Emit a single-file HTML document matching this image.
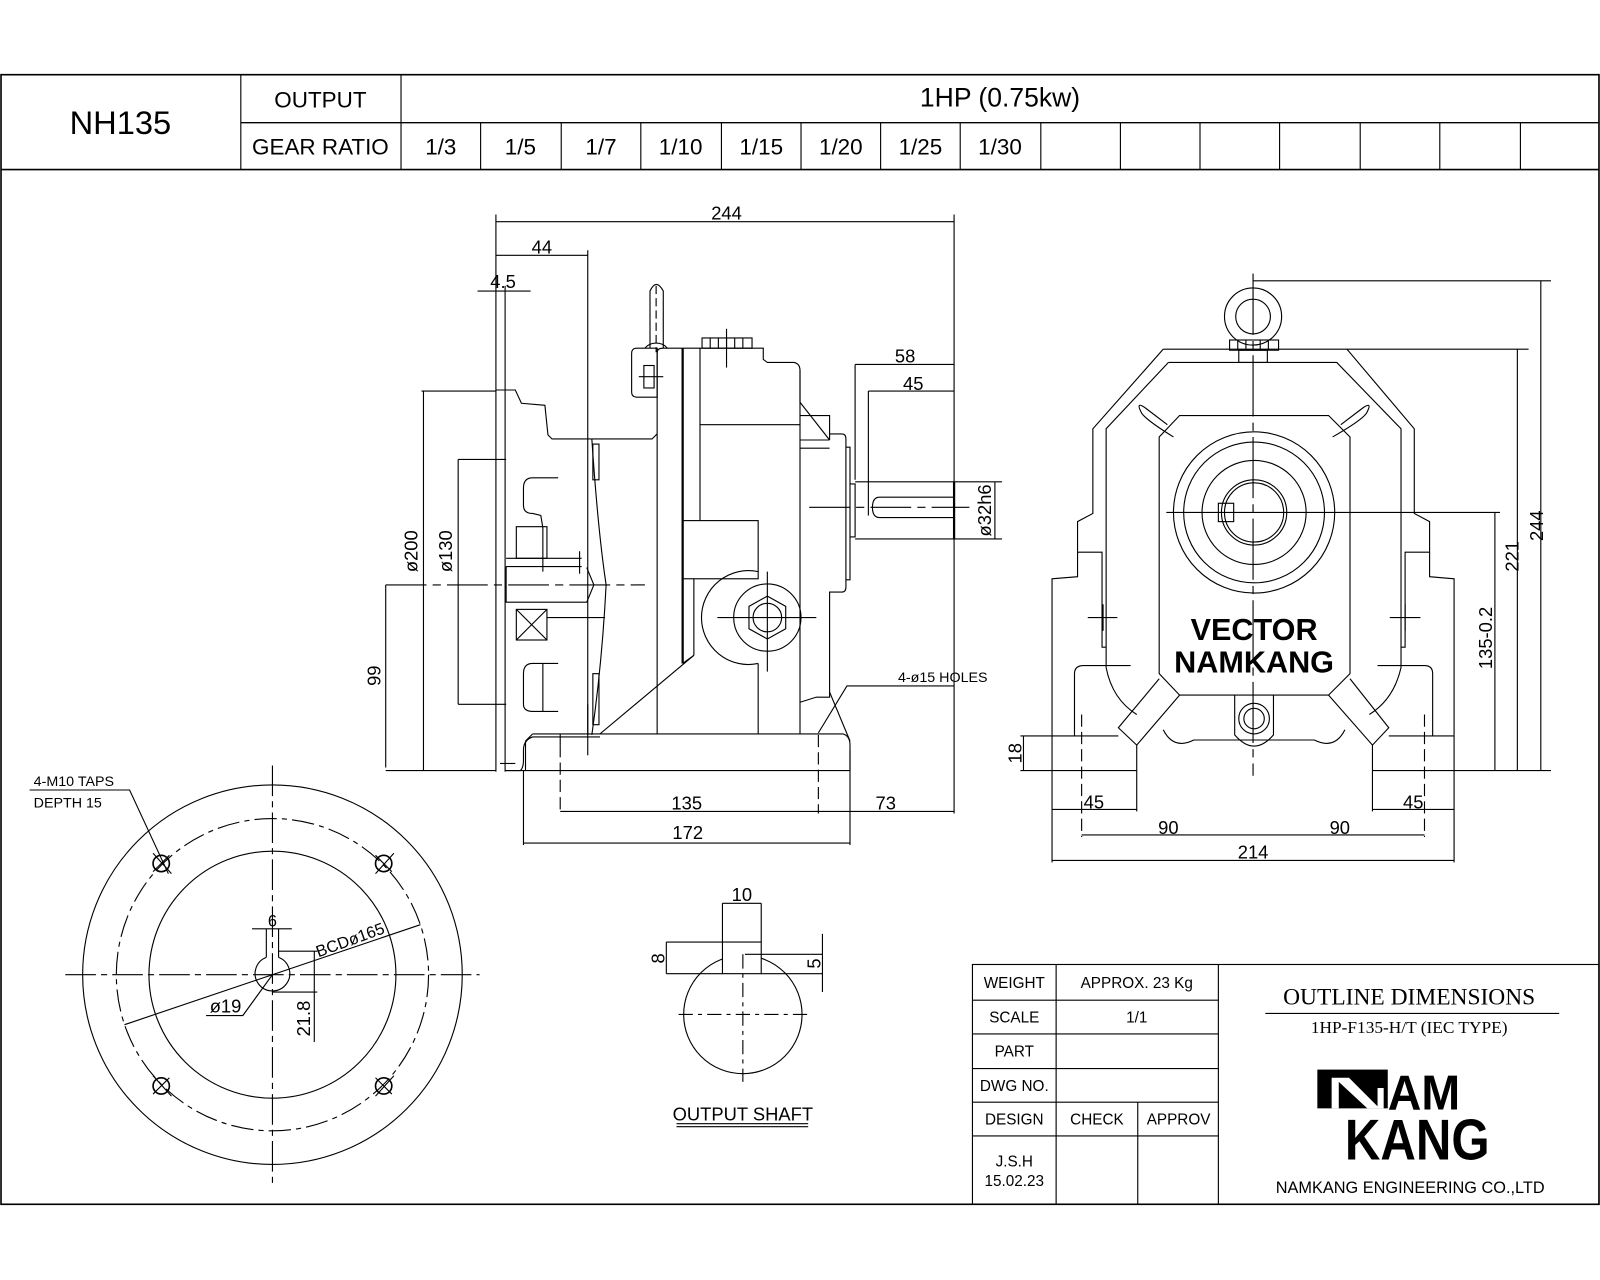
<!DOCTYPE html>
<html><head><meta charset="utf-8"><style>
html,body{margin:0;padding:0;background:#fff;}
svg{display:block;}
text{font-family:"Liberation Sans",sans-serif;fill:#000;}
</style></head><body>
<svg width="1600" height="1280" viewBox="0 0 1568 1254" xmlns="http://www.w3.org/2000/svg">
<rect width="1568" height="1254" fill="#fff"/>
<g fill="none" stroke="#000" stroke-width="1.1">
<rect x="1" y="73" width="1566" height="1107" stroke-width="1.6"/>
<line x1="1" y1="166" x2="1567" y2="166" stroke-width="1.6"/>
<line x1="236" y1="120" x2="1567" y2="120" stroke-width="1.4"/>
<line x1="236" y1="73" x2="236" y2="166"/>
<line x1="393" y1="73" x2="393" y2="166"/>
<line x1="471" y1="120" x2="471" y2="166"/><line x1="550" y1="120" x2="550" y2="166"/>
<line x1="628" y1="120" x2="628" y2="166"/><line x1="707" y1="120" x2="707" y2="166"/>
<line x1="785" y1="120" x2="785" y2="166"/><line x1="863" y1="120" x2="863" y2="166"/>
<line x1="941" y1="120" x2="941" y2="166"/><line x1="1020" y1="120" x2="1020" y2="166"/>
<line x1="1098" y1="120" x2="1098" y2="166"/><line x1="1176" y1="120" x2="1176" y2="166"/>
<line x1="1254" y1="120" x2="1254" y2="166"/><line x1="1333" y1="120" x2="1333" y2="166"/>
<line x1="1411" y1="120" x2="1411" y2="166"/><line x1="1490" y1="120" x2="1490" y2="166"/>

<rect x="953" y="945" width="614" height="235"/>
<line x1="1194" y1="945" x2="1194" y2="1180"/>
<line x1="1035" y1="945" x2="1035" y2="1180"/>
<line x1="1115" y1="1080" x2="1115" y2="1180"/>
<line x1="953" y1="980" x2="1194" y2="980"/>
<line x1="953" y1="1013" x2="1194" y2="1013"/>
<line x1="953" y1="1047" x2="1194" y2="1047"/>
<line x1="953" y1="1080" x2="1194" y2="1080"/>
<line x1="953" y1="1113" x2="1194" y2="1113"/>
<line x1="1240" y1="993" x2="1528" y2="993"/>

<line x1="486" y1="217" x2="935" y2="217"/>
<line x1="486" y1="250" x2="576" y2="250"/>
<line x1="468" y1="285" x2="520" y2="285"/>
<line x1="486" y1="210" x2="486" y2="756"/>
<line x1="495" y1="280" x2="495" y2="756"/>
<line x1="576" y1="245" x2="576" y2="720"/>
<line x1="935" y1="210" x2="935" y2="797"/>
<line x1="838" y1="357" x2="935" y2="357"/>
<line x1="851" y1="383" x2="935" y2="383"/>
<line x1="838" y1="357" x2="838" y2="470"/>
<line x1="851" y1="383" x2="851" y2="505"/>
<line x1="415" y1="383" x2="415" y2="755"/>
<line x1="413" y1="383" x2="486" y2="383"/>
<line x1="449" y1="450" x2="449" y2="690"/>
<line x1="449" y1="450" x2="496" y2="450"/>
<line x1="449" y1="690" x2="496" y2="690"/>
<line x1="378" y1="573" x2="378" y2="752"/>
<line x1="378" y1="573" x2="632" y2="573" stroke-dasharray="40,6,8,6"/>
<line x1="378" y1="755" x2="486" y2="755"/>
<line x1="793" y1="497" x2="950" y2="497" stroke-dasharray="40,6,8,6"/>
<line x1="975" y1="472" x2="975" y2="528"/>
<line x1="935" y1="472" x2="982" y2="472"/>
<line x1="935" y1="528" x2="982" y2="528"/>
<line x1="549" y1="730" x2="549" y2="797" stroke-dasharray="12,5"/>
<line x1="802" y1="720" x2="802" y2="797" stroke-dasharray="12,5"/>
<line x1="549" y1="795" x2="935" y2="795"/>
<line x1="513" y1="755" x2="513" y2="828"/>
<line x1="833" y1="735" x2="833" y2="828"/>
<line x1="513" y1="826" x2="833" y2="826"/>
<line x1="495" y1="755" x2="833" y2="755"/>
<polyline points="802,718 830,672 935,672"/>

<polyline points="486,382 505,382 511,395 534,397 537,426 541,430 639,430 644,425"/>
<path d="M522,468 L547,468 M522,468 Q513,468 513,478 L513,495 Q513,503 522,503 L530,505 L532,517 L532,560"/>
<path d="M506,516 L536,516 L536,547 L506,547 Z"/>
<line x1="496" y1="547" x2="570" y2="547"/><line x1="496" y1="555" x2="570" y2="555"/>
<line x1="568" y1="540" x2="568" y2="562"/>
<path d="M496,555 L496,590 L575,590 L582,573 L575,556"/>
<rect x="506" y="597" width="30" height="30"/>
<line x1="506" y1="597" x2="536" y2="627"/><line x1="536" y1="597" x2="506" y2="627"/>
<line x1="536" y1="605" x2="593" y2="605"/>
<path d="M547,650 L522,650 Q513,650 513,660 L513,690 Q513,697 522,697 L547,697"/>
<line x1="532" y1="650" x2="532" y2="697"/>
<path d="M580,430 Q586,520 594,573 Q590,650 580,720"/>
<rect x="581" y="435" width="6" height="35"/>
<rect x="581" y="660" width="6" height="50"/>
<line x1="576" y1="690" x2="576" y2="740"/>
<path d="M495,755 L510,755 Q513,752 513,745 L513,735 Q513,725 522,722 L588,722"/>
<path d="M490,748 L505,748"/>
<path d="M637,341 L637,285 Q643,272 650,285 L650,341"/>
<line x1="643" y1="280" x2="643" y2="345" stroke-dasharray="8,4"/>
<path d="M632,341 Q636,336 643,336 Q650,336 654,341"/>
<path d="M624,341 L644,341 L644,389 L624,389 Q619,389 619,384 L619,346 Q619,341 624,341 Z"/>
<rect x="631" y="358" width="10" height="22"/>
<line x1="626" y1="369" x2="650" y2="369"/>
<path d="M644,345 Q644,341 650,341 L748,341 L748,352 L752,355 L778,355 Q784,356 784,363 L784,394"/>
<line x1="644" y1="345" x2="644" y2="719"/>
<line x1="669" y1="341" x2="669" y2="650" stroke-width="2.2"/>
<line x1="686" y1="341" x2="686" y2="510"/>
<line x1="669" y1="650" x2="680" y2="642"/>
<line x1="680" y1="567" x2="680" y2="642"/>
<line x1="588" y1="719" x2="680" y2="642"/>
<rect x="688" y="331" width="49" height="10"/>
<line x1="696" y1="331" x2="696" y2="341"/><line x1="704" y1="331" x2="704" y2="341"/>
<line x1="712" y1="331" x2="712" y2="341"/><line x1="720" y1="331" x2="720" y2="341"/>
<line x1="728" y1="331" x2="728" y2="341"/>
<line x1="712" y1="322" x2="712" y2="360"/>
<line x1="686" y1="416" x2="784" y2="416"/>
<line x1="784" y1="363" x2="784" y2="719"/>
<rect x="669" y="510" width="74" height="57"/>
<line x1="743" y1="650" x2="743" y2="719"/>
<path d="M743,560 A46,46 0 1 0 743,650"/>
<circle cx="752" cy="605" r="33"/>
<polygon points="752,584 770,594 770,616 752,626 734,616 734,594"/>
<circle cx="752" cy="605" r="14"/>
<line x1="703" y1="605" x2="800" y2="605"/><line x1="752" y1="560" x2="752" y2="658"/>
<line x1="784" y1="394" x2="813" y2="431"/>
<polyline points="784,407 813,407 813,431"/>
<line x1="784" y1="431" x2="813" y2="431"/><line x1="784" y1="439" x2="813" y2="439"/>
<path d="M813,425 L825,425 Q829,425 829,430 L829,575 Q829,580 825,580 L813,580 L813,678"/>
<path d="M829,438 L833,438 L833,568 L829,568"/>
<path d="M833,474 L838,474 L838,526 L833,526"/>
<path d="M784,688 L800,683 L813,683 L813,678"/>
<line x1="813" y1="678" x2="833" y2="726"/>
<line x1="838" y1="472" x2="935" y2="472"/>
<line x1="838" y1="528" x2="935" y2="528"/>
<line x1="935" y1="472" x2="935" y2="528" stroke-width="2.2"/>
<path d="M935,487 L862,487 Q855,487 855,497 Q855,507 862,507 L935,507"/>
<path d="M522,719 L826,719 Q833,721 833,730 L833,755"/>
<line x1="522" y1="719" x2="515" y2="726"/>
<line x1="515" y1="726" x2="515" y2="755"/>
<line x1="549" y1="719" x2="549" y2="730"/>

<line x1="1228" y1="268" x2="1228" y2="760" stroke-dasharray="60,6,8,6"/>
<circle cx="1228" cy="310" r="28"/>
<circle cx="1228" cy="310" r="17"/>
<rect x="1205" y="333" width="48" height="10"/>
<line x1="1213" y1="333" x2="1213" y2="343"/><line x1="1221" y1="333" x2="1221" y2="343"/>
<line x1="1235" y1="333" x2="1235" y2="343"/><line x1="1243" y1="333" x2="1243" y2="343"/>
<rect x="1214" y="343" width="28" height="12"/>
<path d="M1140,342 L1320,342 L1386,420 L1386,503 L1401,511 L1401,565 L1425,567 L1425,721"/>
<path d="M1140,342 L1071,420 L1071,503 L1056,511 L1056,565 L1031,567 L1031,721"/>
<path d="M1145,355 L1310,355 L1373,420 L1373,654 Q1366,685 1342,700"/>
<path d="M1145,355 L1084,420 L1084,654 Q1090,685 1114,700"/>
<path d="M1056,541 L1080,541 L1080,634 L1084,634"/>
<path d="M1401,541 L1377,541 L1377,634 L1373,634"/>
<line x1="1066" y1="605" x2="1095" y2="605"/><line x1="1081" y1="592" x2="1081" y2="618"/>
<line x1="1362" y1="605" x2="1392" y2="605"/><line x1="1377" y1="592" x2="1377" y2="618"/>
<path d="M1144,416 L1123,400 Q1112,392 1119,405 Q1124,412 1150,428"/>
<path d="M1314,416 L1335,400 Q1346,392 1339,405 Q1334,412 1306,428"/>
<path d="M1053,721 L1053,660 Q1053,652 1062,652 L1108,652"/>
<path d="M1404,721 L1404,660 Q1404,652 1396,652 L1350,652"/>
<path d="M1156,407 L1302,407 L1323,428 L1323,660 L1302,681 L1156,681 L1136,660 L1136,428 Z"/>
<circle cx="1229" cy="502" r="79"/>
<circle cx="1229" cy="502" r="69"/>
<circle cx="1229" cy="502" r="51"/>
<circle cx="1229" cy="502" r="32"/>
<circle cx="1229" cy="502" r="29"/>
<rect x="1194" y="493" width="15" height="18"/>
<line x1="1143" y1="502" x2="1470" y2="502"/>
<path d="M1136,665 L1096,713 L1114,730 L1156,681"/>
<path d="M1323,665 L1361,713 L1345,730 L1302,681"/>
<path d="M1114,730 L1114,755 M1345,730 L1345,755"/>
<path d="M1210,681 L1210,720 Q1229,742 1248,720 L1248,681"/>
<circle cx="1229" cy="704" r="15"/><circle cx="1229" cy="704" r="10"/>
<path d="M1140,715 Q1150,735 1170,725 L1288,725 Q1308,735 1318,715"/>
<line x1="1031" y1="721" x2="1096" y2="721"/>
<line x1="1361" y1="721" x2="1425" y2="721"/>
<line x1="1031" y1="755" x2="1114" y2="755"/>
<line x1="1345" y1="755" x2="1425" y2="755"/>
<line x1="1000" y1="721" x2="1031" y2="721"/>
<line x1="1000" y1="755" x2="1031" y2="755"/>
<line x1="1003" y1="721" x2="1003" y2="755"/>
<line x1="1060" y1="700" x2="1060" y2="820" stroke-dasharray="12,5"/>
<line x1="1396" y1="700" x2="1396" y2="820" stroke-dasharray="12,5"/>
<line x1="1031" y1="721" x2="1031" y2="845"/>
<line x1="1425" y1="721" x2="1425" y2="845"/>
<line x1="1114" y1="755" x2="1114" y2="795"/>
<line x1="1345" y1="755" x2="1345" y2="795"/>
<line x1="1031" y1="793" x2="1114" y2="793"/>
<line x1="1345" y1="793" x2="1425" y2="793"/>
<line x1="1060" y1="818" x2="1396" y2="818"/>
<line x1="1031" y1="843" x2="1425" y2="843"/>
<line x1="1228" y1="275" x2="1520" y2="275"/>
<line x1="1320" y1="342" x2="1498" y2="342"/>
<line x1="1425" y1="755" x2="1520" y2="755"/>
<line x1="1510" y1="275" x2="1510" y2="755"/>
<line x1="1487" y1="342" x2="1487" y2="755"/>
<line x1="1465" y1="502" x2="1465" y2="755"/>

<circle cx="267" cy="955" r="186"/>
<circle cx="267" cy="955" r="153" stroke-dasharray="22,5,5,5"/>
<circle cx="267" cy="955" r="121"/>
<line x1="267" y1="750" x2="267" y2="1160" stroke-dasharray="30,5,6,5"/>
<line x1="64" y1="955" x2="470" y2="955" stroke-dasharray="30,5,6,5"/>
<g stroke-width="1.6">
<circle cx="158" cy="846" r="8"/><circle cx="376" cy="846" r="8"/>
<circle cx="158" cy="1064" r="8"/><circle cx="376" cy="1064" r="8"/>
</g>
<line x1="150" y1="836" x2="168" y2="856"/><line x1="166" y1="838" x2="150" y2="854"/>
<line x1="368" y1="856" x2="386" y2="836"/><line x1="368" y1="838" x2="384" y2="854"/>
<line x1="150" y1="1054" x2="168" y2="1074"/><line x1="166" y1="1056" x2="150" y2="1072"/>
<line x1="368" y1="1074" x2="386" y2="1054"/><line x1="368" y1="1056" x2="384" y2="1072"/>
<path d="M261,938 A17,17 0 1 0 273,938"/>
<line x1="261" y1="910" x2="261" y2="938"/><line x1="273" y1="910" x2="273" y2="938"/>
<line x1="247" y1="910" x2="286" y2="910"/>
<line x1="273" y1="932" x2="311" y2="932"/>
<line x1="267" y1="972" x2="311" y2="972"/>
<line x1="308" y1="932" x2="308" y2="1021"/>
<line x1="122" y1="1004" x2="412" y2="906"/>
<polyline points="267,955 238,995 202,995"/>
<polyline points="29,774 127,774 165,856"/>

<circle cx="728" cy="994" r="58"/>
<rect x="708" y="923" width="38" height="31" fill="#fff"/>
<line x1="665" y1="994" x2="792" y2="994" stroke-dasharray="14,5,4,5"/>
<line x1="728" y1="935" x2="728" y2="1060" stroke-dasharray="14,5,4,5"/>
<line x1="708" y1="885" x2="708" y2="923"/><line x1="746" y1="885" x2="746" y2="923"/>
<line x1="708" y1="885" x2="746" y2="885"/>
<line x1="653" y1="923" x2="708" y2="923"/><line x1="653" y1="954" x2="708" y2="954"/>
<line x1="653" y1="923" x2="653" y2="954"/>
<line x1="730" y1="935" x2="806" y2="935"/><line x1="746" y1="954" x2="806" y2="954"/>
<line x1="806" y1="915" x2="806" y2="972"/>
<line x1="663" y1="1101" x2="792" y2="1101"/>
<line x1="663" y1="1104" x2="792" y2="1104"/>
</g>

<g font-size="21">
<text x="118" y="131" font-size="32" text-anchor="middle">NH135</text>
<text x="314" y="105" text-anchor="middle" font-size="22">OUTPUT</text>
<text x="314" y="151" text-anchor="middle" font-size="22">GEAR RATIO</text>
<text x="980" y="104" text-anchor="middle" font-size="26">1HP (0.75kw)</text>
<text x="432" y="151" text-anchor="middle" font-size="22">1/3</text>
<text x="510" y="151" text-anchor="middle" font-size="22">1/5</text>
<text x="589" y="151" text-anchor="middle" font-size="22">1/7</text>
<text x="667" y="151" text-anchor="middle" font-size="22">1/10</text>
<text x="746" y="151" text-anchor="middle" font-size="22">1/15</text>
<text x="824" y="151" text-anchor="middle" font-size="22">1/20</text>
<text x="902" y="151" text-anchor="middle" font-size="22">1/25</text>
<text x="980" y="151" text-anchor="middle" font-size="22">1/30</text>
</g>
<g font-size="15" text-anchor="middle">
<text x="994" y="968">WEIGHT</text>
<text x="1114" y="968">APPROX. 23 Kg</text>
<text x="994" y="1002">SCALE</text>
<text x="1114" y="1002">1/1</text>
<text x="994" y="1035">PART</text>
<text x="994" y="1069">DWG NO.</text>
<text x="994" y="1102">DESIGN</text>
<text x="1075" y="1102">CHECK</text>
<text x="1155" y="1102">APPROV</text>
<text x="994" y="1143">J.S.H</text>
<text x="994" y="1162">15.02.23</text>
<text x="1382" y="1169" font-size="16">NAMKANG ENGINEERING CO.,LTD</text>
</g>
<text x="1381" y="984" text-anchor="middle" font-size="23" style="font-family:'Liberation Serif',serif">OUTLINE DIMENSIONS</text>
<text x="1381" y="1012" text-anchor="middle" font-size="17" style="font-family:'Liberation Serif',serif">1HP-F135-H/T (IEC TYPE)</text>
<rect x="1291" y="1048" width="69" height="38" fill="#000"/>
<polygon points="1305,1056 1322,1056 1350,1084 1350,1066 1356,1066 1356,1086 1340,1086 1312,1060 1312,1086 1305,1086" fill="#fff"/>
<text x="1360" y="1087" font-size="48" font-weight="bold" transform="translate(1360 0) scale(0.95 1) translate(-1360 0)">AM</text>
<text x="1318" y="1136" font-size="56" font-weight="bold" transform="translate(1318 0) scale(0.86 1) translate(-1318 0)">KANG</text>
<g font-size="18" text-anchor="middle">
<text x="712" y="215">244</text>
<text x="531" y="248">44</text>
<text x="493" y="282">4.5</text>
<text x="887" y="355">58</text>
<text x="895" y="382">45</text>
<text x="673" y="793">135</text>
<text x="868" y="793">73</text>
<text x="674" y="822">172</text>
<text transform="translate(409 540) rotate(-90)">ø200</text>
<text transform="translate(443 540) rotate(-90)">ø130</text>
<text transform="translate(373 662) rotate(-90)">99</text>
<text transform="translate(971 500) rotate(-90)">ø32h6</text>
<text x="1072" y="792">45</text>
<text x="1385" y="792">45</text>
<text x="1145" y="817">90</text>
<text x="1313" y="817">90</text>
<text x="1228" y="841">214</text>
<text transform="translate(1001 738) rotate(-90)">18</text>
<text transform="translate(1512 515) rotate(-90)">244</text>
<text transform="translate(1488 545) rotate(-90)">221</text>
<text transform="translate(1462 625) rotate(-90)">135-0.2</text>
<text x="727" y="883">10</text>
<text transform="translate(651 939) rotate(-90)">8</text>
<text transform="translate(804 944) rotate(-90)">5</text>
<text x="728" y="1098">OUTPUT SHAFT</text>
<text x="267" y="908" font-size="16">6</text>
<text transform="translate(345 926) rotate(-20)" font-size="16">BCDø165</text>
<text x="221" y="992">ø19</text>
<text transform="translate(304 998) rotate(-90)">21.8</text>
</g>
<g font-size="14">
<text x="880" y="668">4-ø15 HOLES</text>
<text x="33" y="770">4-M10 TAPS</text>
<text x="33" y="791">DEPTH 15</text>
</g>
<g font-size="30" font-weight="bold" text-anchor="middle">
<text x="1229" y="627">VECTOR</text>
<text x="1229" y="659">NAMKANG</text>
</g>
</svg>
</body></html>
